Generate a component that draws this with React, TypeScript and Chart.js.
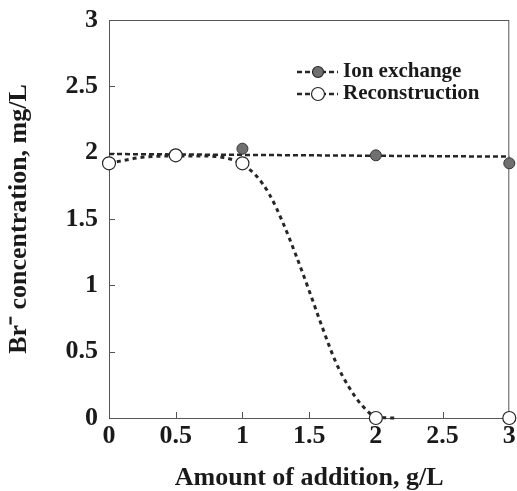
import React, { useEffect, useRef } from "react";
import { Chart, registerables } from "chart.js";

Chart.register(...registerables);

// ---- data ----
const xPoints = [0, 0.5, 1, 2, 3];
const ionExchange = [1.92, 1.98, 2.03, 1.98, 1.92];
const reconstruction = [1.92, 1.98, 1.92, 0.0, 0.0];

// dashed fit line for ion exchange (endpoints)
const ionFitX = [0, 3];
const ionFitY = [1.99, 1.97];

// dashed fitted curve for reconstruction
const reconFitX = [0, 0.25, 0.5, 0.7, 0.85, 0.97, 1.03, 1.1, 1.2, 1.3, 1.4, 1.5, 1.6, 1.7, 1.8, 1.9, 2.0, 2.15];
const reconFitY = [1.92, 1.965, 1.975, 1.975, 1.965, 1.93, 1.89, 1.83, 1.69, 1.48, 1.23, 0.96, 0.68, 0.42, 0.23, 0.09, 0.01, 0.0];

const xTicks = [0, 0.5, 1, 1.5, 2, 2.5, 3];
const yTicks = [0, 0.5, 1, 1.5, 2, 2.5, 3];

const legendLabels = ["Ion exchange", "Reconstruction"];

const FONT = "'Liberation Serif', 'Times New Roman', serif";
const FILL_GRAY = "#707070";
const DARK = "#262626";

const framePlugin = {
  id: "frame",
  beforeDatasetsDraw(chart: any) {
    const { ctx, chartArea } = chart;
    const { left, right, top, bottom } = chartArea;
    const xs = chart.scales.x;
    const ys = chart.scales.y;
    ctx.save();
    ctx.strokeStyle = "#555";
    ctx.lineWidth = 1;
    ctx.setLineDash([]);
    ctx.strokeRect(left + 0.5, top + 0.5, right - left - 1, bottom - top);
    ctx.beginPath();
    for (const v of xTicks) {
      if (v <= 0 || v >= 3) continue;
      const px = Math.round(xs.getPixelForValue(v)) + 0.5;
      ctx.moveTo(px, bottom);
      ctx.lineTo(px, bottom - 6);
    }
    for (const v of yTicks) {
      if (v <= 0 || v >= 3) continue;
      const py = Math.round(ys.getPixelForValue(v)) + 0.5;
      ctx.moveTo(left, py);
      ctx.lineTo(left + 6, py);
    }
    ctx.stroke();
    ctx.restore();
  },
  afterDraw(chart: any) {
    const { ctx } = chart;
    ctx.save();
    const rows = [
      { y: 72, filled: true, label: legendLabels[0] },
      { y: 94, filled: false, label: legendLabels[1] },
    ];
    for (const r of rows) {
      ctx.strokeStyle = DARK;
      ctx.lineWidth = 2.5;
      ctx.setLineDash([5, 3]);
      ctx.beginPath();
      ctx.moveTo(297, r.y);
      ctx.lineTo(338, r.y);
      ctx.stroke();
      ctx.setLineDash([]);
      ctx.beginPath();
      ctx.arc(318, r.y, r.filled ? 5.5 : 6.5, 0, Math.PI * 2);
      ctx.fillStyle = r.filled ? FILL_GRAY : "#fff";
      ctx.fill();
      ctx.lineWidth = 1.2;
      ctx.strokeStyle = DARK;
      ctx.stroke();
      ctx.fillStyle = "#1a1a1a";
      ctx.font = `bold 21px ${FONT}`;
      ctx.textBaseline = "middle";
      ctx.textAlign = "left";
      ctx.fillText(r.label, 343, r.y);
    }
    ctx.restore();
  },
};

export default function App() {
  const ref = useRef<HTMLCanvasElement>(null);
  useEffect(() => {
    const canvas = ref.current!;
    const chart = new Chart(canvas, {
      type: "scatter",
      data: {
        datasets: [
          {
            label: "Reconstruction",
            data: xPoints.map((x, i) => ({ x, y: reconstruction[i] })),
            showLine: false,
            pointRadius: 6.5,
            pointBackgroundColor: "#ffffff",
            pointBorderColor: DARK,
            pointBorderWidth: 1.2,
            clip: false,
          } as any,
          {
            label: "Ion exchange",
            data: xPoints.map((x, i) => ({ x, y: ionExchange[i] })),
            showLine: false,
            pointRadius: 5.5,
            pointBackgroundColor: FILL_GRAY,
            pointBorderColor: "#333",
            pointBorderWidth: 1,
            clip: false,
          } as any,
          {
            label: "Reconstruction fit",
            data: reconFitX.map((x, i) => ({ x, y: reconFitY[i] })),
            showLine: true,
            pointRadius: 0,
            borderColor: DARK,
            borderWidth: 3,
            borderDash: [4, 4],
            cubicInterpolationMode: "monotone",
            clip: false,
          } as any,
          {
            label: "Ion exchange fit",
            data: ionFitX.map((x, i) => ({ x, y: ionFitY[i] })),
            showLine: true,
            pointRadius: 0,
            borderColor: DARK,
            borderWidth: 2.5,
            borderDash: [5, 3],
            clip: false,
          } as any,
        ],
      },
      options: {
        animation: false,
        responsive: false,
        layout: { padding: { top: 20, right: 6, left: 0, bottom: 0 } },
        plugins: { legend: { display: false }, tooltip: { enabled: false } },
        scales: {
          x: {
            type: "linear",
            min: 0,
            max: 3,
            afterFit: (s: any) => { s.height = 73; s.paddingLeft = 0; s.paddingRight = 0; },
            afterBuildTicks: (s: any) => { s.ticks = xTicks.map((v) => ({ value: v })); },
            grid: { display: true, drawOnChartArea: false, drawTicks: false },
            border: { display: true, color: "#555" },
            ticks: {
              padding: 3,
              color: "#1a1a1a",
              font: { family: FONT, size: 26, weight: "bold" },
              maxRotation: 0,
              callback: (v: any) => String(v),
            },
            title: {
              display: true,
              text: "Amount of addition, g/L",
              color: "#1a1a1a",
              font: { family: FONT, size: 26, weight: "bold", lineHeight: 0.95 },
              padding: { top: 0, bottom: 0 },
            },
          },
          y: {
            type: "linear",
            min: 0,
            max: 3,
            afterFit: (s: any) => { s.width = 109; s.paddingTop = 0; s.paddingBottom = 0; },
            afterBuildTicks: (s: any) => { s.ticks = yTicks.map((v) => ({ value: v })); },
            grid: { display: true, drawOnChartArea: false, drawTicks: false },
            border: { display: true, color: "#555" },
            ticks: {
              padding: 11,
              color: "#1a1a1a",
              font: { family: FONT, size: 26, weight: "bold" },
              callback: (v: any) => String(v),
            },
            title: {
              display: true,
              text: "Br\u207B concentration, mg/L",
              color: "#1a1a1a",
              font: { family: FONT, size: 26, weight: "bold" },
              padding: { top: 4, bottom: 0 },
            },
          },
        },
      },
      plugins: [framePlugin],
    } as any);
    return () => chart.destroy();
  }, []);
  return (
    <div style={{ position: "absolute", left: 0, top: 0, width: 517, height: 491, background: "#fff" }}>
      <canvas ref={ref} width={517} height={491} />
    </div>
  );
}
